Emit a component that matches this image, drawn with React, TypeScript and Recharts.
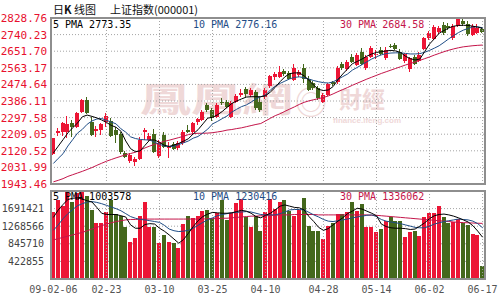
import { Bar, CartesianGrid, ComposedChart, Line, ReferenceLine, XAxis, YAxis } from "recharts";

// Shanghai Composite (000001) daily candles, 2009-02-06 .. 2009-06-17
const dates = [
  "09-02-06", "09-02-09", "09-02-10", "09-02-11", "09-02-12", "09-02-13", "09-02-16", "09-02-17", "09-02-18", "09-02-19",
  "09-02-20", "09-02-23", "09-02-24", "09-02-25", "09-02-26", "09-02-27", "09-03-02", "09-03-03", "09-03-04", "09-03-05",
  "09-03-06", "09-03-09", "09-03-10", "09-03-11", "09-03-12", "09-03-13", "09-03-16", "09-03-17", "09-03-18", "09-03-19",
  "09-03-20", "09-03-23", "09-03-24", "09-03-25", "09-03-26", "09-03-27", "09-03-30", "09-03-31", "09-04-01", "09-04-02",
  "09-04-03", "09-04-07", "09-04-08", "09-04-09", "09-04-10", "09-04-13", "09-04-14", "09-04-15", "09-04-16", "09-04-17",
  "09-04-20", "09-04-21", "09-04-22", "09-04-23", "09-04-24", "09-04-27", "09-04-28", "09-04-29", "09-04-30", "09-05-04",
  "09-05-05", "09-05-06", "09-05-07", "09-05-08", "09-05-11", "09-05-12", "09-05-13", "09-05-14", "09-05-15", "09-05-18",
  "09-05-19", "09-05-20", "09-05-21", "09-05-22", "09-05-25", "09-05-26", "09-05-27", "09-06-01", "09-06-02", "09-06-03",
  "09-06-04", "09-06-05", "09-06-08", "09-06-09", "09-06-10", "09-06-11", "09-06-12", "09-06-15", "09-06-16", "09-06-17",
];

const tickDates = ["09-02-06", "09-02-23", "09-03-10", "09-03-25", "09-04-10", "09-04-28", "09-05-14", "09-06-02", "09-06-17"];

const opens = [
  2104, 2214, 2221, 2222, 2270, 2249, 2329, 2391, 2274, 2226, 2232, 2276, 2281, 2232, 2210, 2108, 2068, 2063, 2076, 2223,
  2178, 2210, 2093, 2205, 2135, 2157, 2135, 2161, 2231, 2223, 2276, 2285, 2365, 2338, 2302, 2383, 2383, 2302, 2382, 2418,
  2448, 2418, 2435, 2382, 2405, 2466, 2512, 2515, 2545, 2533, 2497, 2524, 2563, 2506, 2480, 2453, 2379, 2418, 2485, 2485,
  2581, 2556, 2621, 2577, 2648, 2560, 2621, 2630, 2657, 2613, 2679, 2687, 2650, 2602, 2557, 2620, 2602, 2664, 2721, 2717,
  2753, 2792, 2788, 2721, 2788, 2815, 2797, 2738, 2749, 2770,
];
const highs = [
  2190, 2241, 2276, 2306, 2285, 2327, 2396, 2409, 2301, 2253, 2270, 2320, 2294, 2249, 2223, 2122, 2108, 2090, 2196, 2241,
  2216, 2235, 2178, 2221, 2169, 2168, 2173, 2231, 2258, 2274, 2297, 2338, 2374, 2347, 2374, 2400, 2393, 2386, 2423, 2448,
  2460, 2455, 2444, 2407, 2453, 2524, 2540, 2572, 2556, 2545, 2582, 2551, 2581, 2519, 2492, 2466, 2428, 2481, 2492, 2572,
  2593, 2604, 2636, 2641, 2668, 2630, 2678, 2657, 2673, 2673, 2689, 2694, 2662, 2640, 2620, 2630, 2646, 2726, 2758, 2790,
  2785, 2806, 2801, 2795, 2826, 2826, 2811, 2795, 2795, 2779,
];
const lows = [
  2100, 2200, 2200, 2189, 2193, 2242, 2322, 2317, 2200, 2196, 2205, 2249, 2194, 2161, 2104, 2081, 2054, 2037, 2072, 2178,
  2173, 2111, 2081, 2136, 2081, 2125, 2125, 2152, 2215, 2205, 2258, 2280, 2329, 2280, 2294, 2365, 2349, 2295, 2375, 2407,
  2407, 2407, 2338, 2327, 2396, 2455, 2497, 2508, 2519, 2497, 2492, 2513, 2480, 2439, 2444, 2391, 2374, 2412, 2466, 2476,
  2551, 2545, 2588, 2572, 2577, 2551, 2614, 2609, 2630, 2604, 2668, 2657, 2604, 2590, 2540, 2577, 2593, 2657, 2710, 2710,
  2742, 2737, 2763, 2709, 2779, 2785, 2731, 2731, 2742, 2747,
];
const closes = [
  2188, 2228, 2267, 2263, 2249, 2320, 2391, 2320, 2205, 2235, 2262, 2306, 2200, 2205, 2116, 2087, 2099, 2076, 2178, 2231,
  2199, 2116, 2161, 2140, 2143, 2129, 2161, 2223, 2222, 2267, 2288, 2329, 2338, 2294, 2365, 2374, 2356, 2377, 2412, 2430,
  2423, 2444, 2347, 2338, 2444, 2519, 2529, 2542, 2528, 2506, 2563, 2541, 2506, 2444, 2453, 2400, 2418, 2475, 2475, 2563,
  2560, 2595, 2595, 2630, 2586, 2621, 2669, 2636, 2639, 2657, 2676, 2661, 2611, 2637, 2614, 2584, 2632, 2721, 2749, 2779,
  2774, 2749, 2774, 2788, 2823, 2797, 2744, 2788, 2774, 2756,
];

// price moving averages (5 / 10 / 30 day)
const ma5 = [
  2110, 2145, 2180, 2216, 2243, 2269, 2302, 2311, 2304, 2296, 2285, 2272, 2256, 2246, 2225, 2173, 2132, 2116, 2120, 2150,
  2179, 2178, 2165, 2150, 2144, 2151, 2160, 2172, 2185, 2211, 2233, 2264, 2295, 2299, 2312, 2330, 2352, 2373, 2386, 2397,
  2407, 2409, 2409, 2409, 2414, 2434, 2459, 2489, 2515, 2532, 2536, 2536, 2520, 2497, 2470, 2448, 2442, 2445, 2463, 2500,
  2530, 2557, 2585, 2597, 2610, 2625, 2637, 2645, 2649, 2653, 2656, 2653, 2645, 2625, 2612, 2605, 2610, 2650, 2690, 2718,
  2748, 2762, 2776, 2785, 2789, 2790, 2789, 2785, 2780, 2773.35,
];
const ma10 = [
  2053, 2080, 2105, 2146, 2180, 2215, 2235, 2262, 2280, 2290, 2293, 2283, 2274, 2264, 2238, 2220, 2195, 2186, 2181, 2179,
  2178, 2166, 2155, 2146, 2143, 2145, 2154, 2163, 2173, 2188, 2197, 2216, 2236, 2264, 2277, 2292, 2306, 2327, 2342, 2356,
  2365, 2380, 2398, 2409, 2418, 2445, 2465, 2480, 2492, 2504, 2512, 2515, 2510, 2503, 2495, 2489, 2484, 2482, 2488, 2502,
  2516, 2530, 2551, 2565, 2580, 2595, 2610, 2622, 2632, 2639, 2642, 2643, 2643, 2640, 2637, 2637, 2639, 2646, 2656, 2668,
  2681, 2699, 2718, 2735, 2751, 2764, 2773, 2781, 2782, 2776.16,
];
const ma30 = [
  1955, 1963, 1972, 1984, 1993, 2002, 2011, 2021, 2031, 2043, 2054, 2065, 2074, 2083, 2091, 2100, 2106, 2113, 2124, 2136,
  2146, 2155, 2163, 2171, 2177, 2184, 2191, 2198, 2207, 2212, 2214, 2214, 2215, 2217, 2221, 2225, 2231, 2234, 2239, 2243,
  2249, 2255, 2261, 2266, 2280, 2294, 2308, 2318, 2331, 2343, 2355, 2368, 2379, 2387, 2393, 2399, 2405, 2413, 2424, 2436,
  2447, 2458, 2470, 2481, 2492, 2503, 2513, 2523, 2533, 2542, 2551, 2560, 2569, 2578, 2586, 2594, 2603, 2612, 2621, 2631,
  2640, 2649, 2657, 2664, 2670, 2675, 2678, 2681, 2683, 2684.58,
];

// daily volume and its moving averages, in thousands of lots
const volumes = [
  1615, 1888, 1743, 2200, 1856, 2073, 2200, 2001, 1647, 1350, 1350, 1615, 1888, 1550, 1502, 1261, 899, 996, 1502, 1839,
  1261, 1261, 861, 1068, 899, 861, 755, 1326, 1502, 1471, 1519, 1632, 1647, 1471, 1584, 1888, 1422, 1584, 1825, 1921,
  1487, 1261, 1502, 1164, 1600, 1921, 1680, 1840, 1888, 1630, 1502, 1660, 1950, 1280, 1164, 1164, 957, 1280, 1357, 1550,
  1567, 1615, 1840, 1630, 1808, 1261, 1246, 1140, 1198, 1400, 1487, 1390, 1405, 1005, 1140, 1164, 1037, 1500, 1584, 1584,
  1743, 1500, 1357, 1374, 1439, 1343, 1302, 1085, 1061, 313,
];
const vma5 = [
  1480, 1660, 1790, 1910, 1940, 1950, 1920, 1880, 1850, 1720, 1580, 1550, 1550, 1550, 1520, 1490, 1300, 1220, 1220, 1310,
  1330, 1320, 1220, 1150, 1060, 960, 860, 950, 1100, 1260, 1400, 1500, 1560, 1600, 1590, 1580, 1580, 1590, 1620, 1650,
  1630, 1580, 1500, 1470, 1530, 1580, 1660, 1750, 1780, 1750, 1720, 1710, 1660, 1500, 1380, 1240, 1170, 1210, 1300, 1390,
  1470, 1570, 1630, 1700, 1680, 1630, 1580, 1520, 1320, 1260, 1230, 1220, 1220, 1210, 1190, 1200, 1270, 1350, 1450, 1520,
  1550, 1560, 1540, 1510, 1470, 1420, 1370, 1280, 1150, 1003.578,
];
const vma10 = [
  1170, 1300, 1450, 1570, 1670, 1760, 1810, 1850, 1860, 1840, 1810, 1770, 1730, 1690, 1640, 1570, 1500, 1460, 1430, 1420,
  1400, 1380, 1360, 1290, 1200, 1160, 1140, 1150, 1170, 1220, 1290, 1360, 1420, 1470, 1520, 1550, 1570, 1590, 1600, 1610,
  1620, 1610, 1580, 1550, 1540, 1540, 1540, 1570, 1610, 1660, 1670, 1670, 1660, 1600, 1540, 1490, 1430, 1390, 1380, 1400,
  1420, 1440, 1470, 1490, 1510, 1530, 1540, 1500, 1430, 1390, 1370, 1350, 1330, 1300, 1270, 1240, 1230, 1230, 1270, 1320,
  1350, 1380, 1400, 1420, 1440, 1430, 1420, 1390, 1330, 1230.416,
];
const vma30 = [
  940, 970, 1000, 1030, 1060, 1090, 1120, 1160, 1200, 1240, 1280, 1320, 1350, 1380, 1400, 1420, 1430, 1430, 1440, 1440,
  1440, 1440, 1440, 1440, 1440, 1440, 1440, 1440, 1440, 1440, 1440, 1440, 1450, 1450, 1450, 1460, 1460, 1470, 1480, 1490,
  1500, 1510, 1510, 1520, 1520, 1530, 1530, 1540, 1540, 1540, 1550, 1550, 1550, 1550, 1550, 1540, 1540, 1540, 1540, 1540,
  1540, 1540, 1540, 1540, 1540, 1540, 1530, 1530, 1520, 1510, 1500, 1490, 1480, 1470, 1460, 1450, 1440, 1430, 1420, 1410,
  1400, 1390, 1380, 1370, 1360, 1355, 1350, 1345, 1340, 1336.062,
];

const priceTicks = [1943.46, 2031.99, 2120.52, 2209.05, 2297.58, 2386.11, 2474.64, 2563.17, 2651.7, 2740.23, 2828.76];
const volumeTicks = [0, 422855, 845710, 1268566, 1691421, 2114276];

const RED = "#ec1535";
const GREEN = "#44681c";
const BLUE = "#1f4d86";
const CRIMSON = "#c4154a";
const GRID = "#a4a4a4";
const MONO = '"DejaVu Sans Mono", monospace';

const rows = dates.map((date, i) => ({
  date,
  open: opens[i],
  high: highs[i],
  low: lows[i],
  close: closes[i],
  ma5: ma5[i],
  ma10: ma10[i],
  ma30: ma30[i],
  volume: volumes[i] * 1000,
  vma5: vma5[i] * 1000,
  vma10: vma10[i] * 1000,
  vma30: vma30[i] * 1000,
}));

type Row = (typeof rows)[number];

// body + wick, scaled inside the [low, high] box the Bar hands us
function Candle(props: any) {
  const { x, y, width, height, payload } = props;
  const d = payload as Row;
  const color = d.close >= d.open ? RED : GREEN;
  const top = Math.min(y, y + height);
  const h = Math.abs(height);
  const span = d.high - d.low || 1;
  const toY = (v: number) => top + ((d.high - v) / span) * h;
  const left = Math.round(x + width / 2 - 2);
  const bodyTop = Math.round(toY(Math.max(d.open, d.close)));
  const bodyBottom = Math.round(toY(Math.min(d.open, d.close)));
  return (
    <g shapeRendering="crispEdges">
      <rect x={left + 1} y={Math.round(top)} width={1} height={Math.max(1, Math.round(top + h) - Math.round(top))} fill={color} />
      <rect x={left} y={bodyTop} width={4} height={Math.max(1, bodyBottom - bodyTop)} fill={color} />
    </g>
  );
}

function VolumeBar(props: any) {
  const { x, y, width, height, payload } = props;
  const d = payload as Row;
  const color = d.close >= d.open ? RED : GREEN;
  const top = Math.round(y);
  return (
    <rect
      x={Math.round(x)}
      y={top}
      width={Math.round(width)}
      height={Math.max(0, Math.round(y + height) - top)}
      fill={color}
      shapeRendering="crispEdges"
    />
  );
}

function fmtDate(d: string) {
  return d === dates[0] ? d : d.slice(3);
}

const legendBase: React.CSSProperties = {
  position: "absolute",
  fontFamily: MONO,
  fontSize: 10,
  lineHeight: "10px",
  whiteSpace: "pre",
};

const panelBorder: React.CSSProperties = {
  position: "absolute",
  left: 50,
  width: 436,
  boxSizing: "border-box",
  border: "2px solid #8e8e8e",
  pointerEvents: "none",
};

const watermark: React.CSSProperties = {
  position: "absolute",
  color: "#efd8d8",
  fontFamily: '"Noto Sans CJK TC", sans-serif',
  fontWeight: 700,
  lineHeight: 1,
  whiteSpace: "pre",
  transformOrigin: "0 0",
};

export default function App() {
  return (
    <div style={{ position: "fixed", left: 0, top: 0, width: 500, height: 300, background: "#fff", overflow: "hidden" }}>
      <div style={{ position: "absolute", left: 53, top: 3, fontSize: 11, lineHeight: "13px", fontFamily: '"Noto Sans CJK SC", sans-serif', color: "#111", whiteSpace: "pre" }}>
        日<b>K</b> 线图
      </div>
      <div style={{ position: "absolute", left: 110, top: 3, fontSize: 11, lineHeight: "13px", fontFamily: '"Noto Sans CJK SC", sans-serif', color: "#111", whiteSpace: "pre" }}>
        上证指数(000001)
      </div>

      <div style={{ ...watermark, left: 140, top: 81, fontSize: 34, transform: "scaleX(1.5)" }}>鳳凰網</div>
      <div style={{ ...watermark, left: 295, top: 84, fontSize: 32, fontWeight: 400 }}>◎</div>
      <div style={{ ...watermark, left: 339, top: 87, fontSize: 23 }}>財經</div>
      <div style={{ ...watermark, left: 333, top: 117, fontSize: 8, fontFamily: "Arial, sans-serif" }}>finance.ifeng.com</div>

      <div style={{ position: "absolute", left: 0, top: 0 }}>
        <ComposedChart width={500} height={190} data={rows} margin={{ top: 18, right: 15, bottom: 6, left: 0 }}>
          <CartesianGrid vertical={false} stroke={GRID} strokeDasharray="1 2" />
          <XAxis dataKey="date" hide />
          <YAxis
            domain={[1943.46, 2828.76]}
            ticks={priceTicks}
            interval={0}
            allowDataOverflow
            width={51}
            axisLine={false}
            tickLine={false}
            tickSize={0}
            tickMargin={4}
            tickFormatter={(v: number) => v.toFixed(2)}
            tick={{ fill: "#e8102e", fontSize: 11, fontFamily: MONO }}
          />
          {tickDates.slice(1).map((d) => (
            <ReferenceLine key={d} x={d} stroke={GRID} strokeDasharray="1 2" />
          ))}
          <Bar dataKey={(d: Row) => [d.low, d.high]} barSize={4} shape={(p: any) => <Candle {...p} />} isAnimationActive={false} />
          <Line dataKey="ma30" stroke={CRIMSON} strokeWidth={1} dot={false} isAnimationActive={false} />
          <Line dataKey="ma10" stroke={BLUE} strokeWidth={1} dot={false} isAnimationActive={false} />
          <Line dataKey="ma5" stroke="#000" strokeWidth={1} dot={false} isAnimationActive={false} />
        </ComposedChart>
      </div>

      <div style={{ position: "absolute", left: 0, top: 190 }}>
        <ComposedChart width={500} height={110} data={rows} margin={{ top: 1, right: 15, bottom: 0, left: 0 }}>
          <CartesianGrid vertical={false} stroke={GRID} strokeDasharray="1 2" />
          <XAxis
            dataKey="date"
            ticks={tickDates}
            interval={0}
            height={21}
            axisLine={false}
            tickLine={false}
            tickSize={0}
            tickMargin={7}
            tickFormatter={fmtDate}
            tick={{ fill: "#555", fontSize: 10, fontFamily: MONO }}
          />
          <YAxis
            domain={[0, 2114276]}
            ticks={volumeTicks}
            interval={0}
            allowDataOverflow
            width={51}
            axisLine={false}
            tickLine={false}
            tickSize={0}
            tickMargin={7}
            tickFormatter={(v: number) => (v > 0 && v < 2114276 ? String(v) : "")}
            tick={{ fill: "#444", fontSize: 10, fontFamily: MONO }}
          />
          {tickDates.slice(1).map((d) => (
            <ReferenceLine key={d} x={d} stroke={GRID} strokeDasharray="1 2" />
          ))}
          <Bar dataKey="volume" barSize={4} shape={(p: any) => <VolumeBar {...p} />} isAnimationActive={false} />
          <Line dataKey="vma30" stroke={CRIMSON} strokeWidth={1} dot={false} isAnimationActive={false} />
          <Line dataKey="vma10" stroke={BLUE} strokeWidth={1} dot={false} isAnimationActive={false} />
          <Line dataKey="vma5" stroke="#000" strokeWidth={1} dot={false} isAnimationActive={false} />
        </ComposedChart>
      </div>

      <div style={{ ...panelBorder, top: 17, height: 168 }} />
      <div style={{ ...panelBorder, top: 190, height: 90 }} />

      <div style={{ ...legendBase, left: 53, top: 19.5, color: "#000" }}>5 PMA 2773.35</div>
      <div style={{ ...legendBase, left: 193, top: 19.5, color: BLUE }}>10 PMA 2776.16</div>
      <div style={{ ...legendBase, left: 340, top: 19.5, color: CRIMSON }}>30 PMA 2684.58</div>

      <div style={{ ...legendBase, left: 53, top: 192, color: "#000" }}>5 PMA 1003578</div>
      <div style={{ ...legendBase, left: 193, top: 192, color: BLUE }}>10 PMA 1230416</div>
      <div style={{ ...legendBase, left: 340, top: 192, color: CRIMSON }}>30 PMA 1336062</div>
    </div>
  );
}
